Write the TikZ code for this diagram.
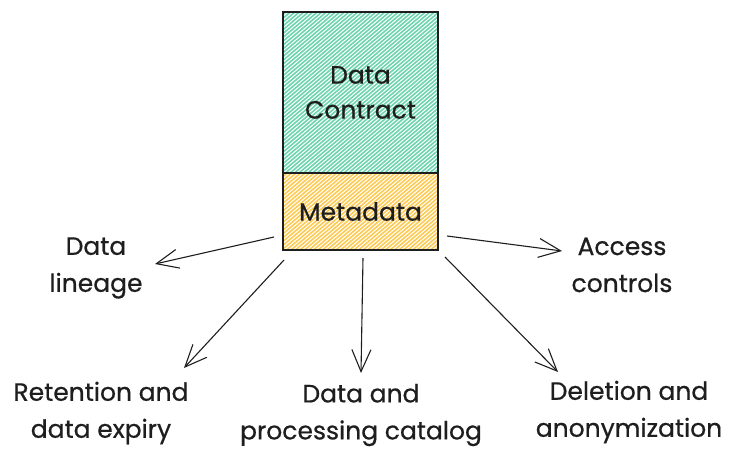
\documentclass[tikz,border=0pt]{standalone}
\usepackage{fontspec}
\setmainfont{Poppins}[FakeBold=0.6]
\usetikzlibrary{arrows.meta}
\definecolor{ink}{HTML}{1E1E1E}
\definecolor{mint}{HTML}{6ED4AF}
\definecolor{amber}{HTML}{FDCB55}
\tikzset{
  label/.style={align=center, font=\fontsize{25}{37}\selectfont, text=ink, inner sep=0pt},
  link/.style={draw=ink, line width=1.1pt, -{Straight Barb[length=22pt,width=19pt,line width=1.1pt]}},
  frame/.style={draw=ink, line width=1.4pt},
}
\begin{document}
\begin{tikzpicture}[x=1pt,y=-1pt]
\useasboundingbox (0,0) rectangle (729,450);
% hatched fills of the two stacked blocks
\begin{scope}
  \clip (283,12) rectangle (438,173);
  \foreach \i in {-200,-195.5,...,170}
    \draw[mint, line width=1.6pt] (283+\i,173) -- ++(200,-170);
\end{scope}
\begin{scope}
  \clip (283,173) rectangle (438,250);
  \foreach \i in {-100,-95.5,...,170}
    \draw[amber, line width=1.6pt] (283+\i,250) -- ++(100,-85);
\end{scope}
% block outlines
\node[frame, minimum width=155pt, minimum height=161pt, inner sep=0pt] (contract) at (360.5,92.5) {};
\node[frame, minimum width=155pt, minimum height=77pt, inner sep=0pt] (meta) at (360.5,211.5) {};
\node[label, font=\fontsize{25}{35}\selectfont] at (contract) {Data\\Contract};
\node[label] at (meta) {Metadata};
% captions around the block
\node[label] (lineage) at (96,268) {Data\\lineage};
\node[label] (retention) at (101,413) {Retention and\\data expiry};
\node[label] (catalog) at (361,415) {Data and\\processing catalog};
\node[label] (access) at (622,265) {Access\\controls};
\node[label] (deletion) at (629,412) {Deletion and\\anonymization};
% arrow end points
\coordinate (s1) at (274,237); \coordinate (e1) at (155,264);
\coordinate (s2) at (284,260); \coordinate (e2) at (184,368);
\coordinate (s3) at (363,258); \coordinate (e3) at (361,373);
\coordinate (s4) at (447,236); \coordinate (e4) at (562,251);
\coordinate (s5) at (445,257); \coordinate (e5) at (558,372);
\draw[link] (s1) -- (e1);
\draw[link] (s2) -- (e2);
\draw[link] (s3) -- (e3);
\draw[link] (s4) -- (e4);
\draw[link] (s5) -- (e5);
\end{tikzpicture}
\end{document}
